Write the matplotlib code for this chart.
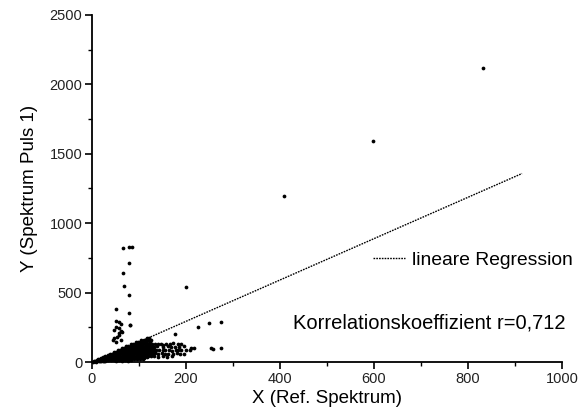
import matplotlib
matplotlib.use("Agg")
import matplotlib.pyplot as plt
from matplotlib.lines import Line2D
from matplotlib.ticker import MultipleLocator

plt.rcParams['font.family'] = ['Liberation Sans', 'DejaVu Sans']

# isolated points
out_x = [832, 597, 408, 201, 225, 248, 274, 176, 253, 258, 274, 211, 218]
out_y = [2120, 1595, 1195, 541, 250, 279, 286, 200, 99, 94, 103, 103, 103]

# vertical spike near x ~ 50-90
spike_x = [67, 79, 86, 79, 67, 69, 79, 79, 51, 81, 50, 57, 61, 81, 50, 57, 64, 57, 47, 50, 61, 47, 61, 57, 54, 44]
spike_y = [820, 827, 827, 711, 640, 548, 481, 351, 380, 269, 295, 290, 277, 265, 255, 243, 219, 195, 171, 147, 155, 231, 226, 207, 182, 160]

# dense core (wedge near origin)
core_x = [2, 5, 8, 11, 14, 17, 20, 24, 28,
          6, 10, 14, 18, 22, 26, 30, 35, 40, 46, 52, 58, 64, 70, 76, 82,
          12, 16, 20, 24, 28, 33, 38, 43, 48, 53, 58, 63, 68, 73, 78, 84, 90, 96, 102, 108,
          20, 24, 28, 33, 38, 43, 48, 53, 58, 63, 68, 73, 78, 83, 88, 93, 98, 104, 110, 116,
          28, 33, 38, 43, 48, 53, 58, 63, 68, 73, 78, 83, 88, 93, 98, 103, 108, 113, 119, 125,
          38, 43, 48, 53, 58, 63, 68, 73, 78, 83, 88, 93, 98, 103, 108, 113, 118, 124, 130,
          47, 52, 57, 62, 67, 72, 77, 82, 87, 92, 97, 102, 107, 112, 117, 122, 128, 134,
          55, 60, 65, 70, 75, 80, 85, 90, 95, 100, 105, 110, 115, 120, 126, 132,
          63, 68, 73, 78, 83, 88, 93, 98, 103, 108, 113, 118, 123, 129,
          72, 77, 82, 87, 92, 97, 102, 107, 112, 117, 122, 128,
          82, 87, 92, 97, 102, 107, 112, 117, 122, 127,
          93, 98, 103, 108, 113, 118, 124,
          105, 110, 115, 120, 126,
          116, 122]
core_y = [3, 4, 3, 5, 4, 6, 5, 7, 6,
          10, 12, 11, 13, 12, 10, 14, 12, 11, 13, 10, 12, 9, 11, 10, 12,
          20, 21, 22, 20, 23, 21, 20, 22, 24, 21, 20, 23, 22, 21, 24, 20, 22, 21, 23, 20,
          32, 34, 31, 33, 32, 35, 31, 33, 32, 30, 34, 32, 33, 31, 35, 32, 30, 33, 31, 34,
          45, 47, 44, 46, 45, 48, 44, 46, 45, 43, 47, 45, 46, 44, 48, 45, 43, 46, 44, 47,
          58, 60, 57, 59, 58, 61, 57, 59, 58, 56, 60, 58, 59, 57, 61, 58, 56, 59, 57,
          72, 74, 71, 73, 72, 75, 71, 73, 72, 70, 74, 72, 73, 71, 75, 72, 70, 73,
          86, 88, 85, 87, 86, 89, 85, 87, 86, 84, 88, 86, 87, 85, 89, 86,
          100, 102, 99, 101, 100, 103, 99, 101, 100, 98, 102, 100, 101, 99,
          115, 117, 114, 116, 115, 118, 114, 116, 115, 113, 117, 115,
          130, 132, 129, 131, 130, 133, 129, 131, 130, 128,
          145, 147, 144, 146, 145, 148, 144,
          160, 162, 159, 161, 158,
          172, 170]

# scattered band to the right of the core
band_x = [135, 140, 146, 152, 158, 166, 172, 182, 190,
          132, 138, 150, 162, 168, 176, 186, 196,
          130, 136, 142, 150, 156, 164, 170, 178, 184, 190, 200, 208,
          128, 134, 140, 148, 156, 162, 172, 180, 188, 196,
          125, 132, 140, 150, 160, 170]
band_y = [130, 128, 133, 126, 131, 129, 134, 127, 131,
          110, 112, 108, 113, 109, 111, 107, 112,
          85, 88, 83, 86, 84, 89, 82, 87, 85, 83, 88, 84,
          60, 62, 58, 63, 59, 61, 57, 62, 60, 58,
          40, 42, 38, 43, 39, 41]

reg_x = [0, 915]
reg_y = [-5, 1358]

fig = plt.figure(figsize=(5.82, 4.19), dpi=100)
ax = fig.add_axes([92 / 582, 57 / 419, 470 / 582, 347 / 419])

ms = 2.7
for xs, ys in [(core_x, core_y), (band_x, band_y), (spike_x, spike_y), (out_x, out_y)]:
    ax.plot(xs, ys, linestyle='none', marker='o', markersize=ms, markeredgewidth=0,
            color='black', clip_on=False)

reg_line, = ax.plot(reg_x, reg_y, color='black', linewidth=1.0, linestyle=(0, (1.2, 0.8)))

ax.set_xlim(0, 1000)
ax.set_ylim(0, 2500)
ax.xaxis.set_major_locator(MultipleLocator(200))
ax.xaxis.set_minor_locator(MultipleLocator(100))
ax.yaxis.set_major_locator(MultipleLocator(500))
ax.yaxis.set_minor_locator(MultipleLocator(250))

for s in ['top', 'right']:
    ax.spines[s].set_visible(False)
for s in ['left', 'bottom']:
    ax.spines[s].set_linewidth(1.3)

ax.tick_params(which='major', direction='out', length=5, width=1.2, labelsize=10.5, pad=2,
               labelcolor='#222222')
ax.tick_params(which='minor', direction='out', length=3, width=1.0)

ax.set_xlabel('X (Ref. Spektrum)', fontsize=13.5, labelpad=3)
ax.set_ylabel('Y (Spektrum Puls 1)', fontsize=13.5, labelpad=8)

handle = Line2D([], [], color='black', linewidth=1.0, linestyle=(0, (1.2, 0.8)))
ax.legend(handles=[handle], labels=['lineare Regression'], loc='center left',
          bbox_to_anchor=(0.598, 0.294), frameon=False, borderpad=0, borderaxespad=0,
          handlelength=1.67, handletextpad=0.37, fontsize=13.9)

ax.text(0.718, 0.112, 'Korrelationskoeffizient r=0,712', transform=ax.transAxes,
        ha='center', va='center', fontsize=14.5)

fig.savefig('out.png', dpi=100)
